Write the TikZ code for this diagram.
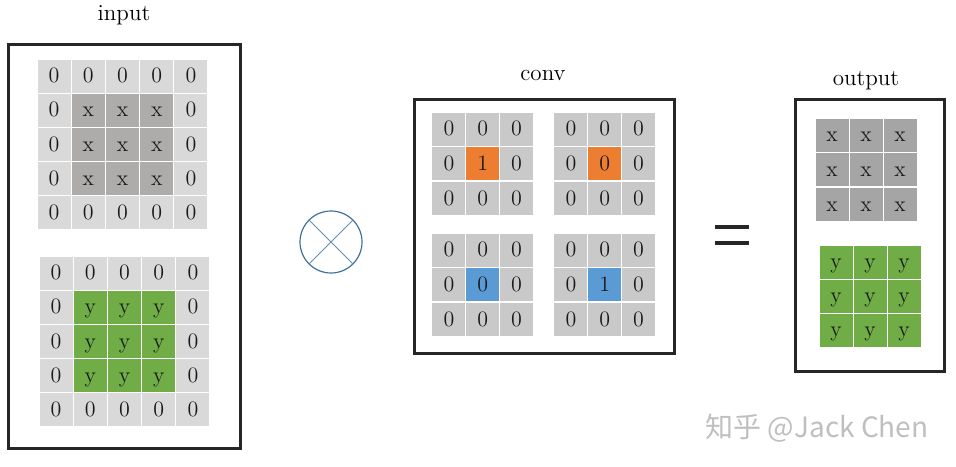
\documentclass[tikz,border=0pt]{standalone}
\usepackage{fontspec}
\newfontfamily\cjk{Noto Sans CJK SC}
\usepackage{tikz}
\usetikzlibrary{positioning}

\definecolor{padgray}{HTML}{D9D9D9}
\definecolor{xgray}{HTML}{AEABAB}
\definecolor{ygreen}{HTML}{70AD47}
\definecolor{kgray}{HTML}{C9C9C9}
\definecolor{korange}{HTML}{ED7D31}
\definecolor{kblue}{HTML}{5B9BD5}
\definecolor{outgray}{HTML}{A5A5A5}
\definecolor{framegray}{HTML}{262626}
\definecolor{ringblue}{HTML}{41719C}

\begin{document}
\begin{tikzpicture}[x=0.5pt, y=-0.5pt,
    cell/.style={fill=padgray, minimum size=16.5pt, inner sep=0pt, text=black!90,
        text height=7pt, text depth=0.5pt, font=\fontsize{11}{11}\selectfont},
    boxframe/.style={draw=framegray, line width=1.5pt, inner sep=0pt},
    lbl/.style={font=\fontsize{11.5}{13}\selectfont}]
    \useasboundingbox (0,0) rectangle (956,466);

    % Frames and titles
    \node[boxframe, minimum width=116pt, minimum height=202pt] (inbox) at (124,246) {};
    \node[lbl] (inlbl) at (124,15) {input};
    \node[boxframe, minimum width=130pt, minimum height=127pt] (convbox) at (544,226) {};
    \node[lbl] (convlbl) at (543,75) {conv};
    \node[boxframe, minimum width=74.5pt, minimum height=136pt] (outbox) at (869.5,235) {};
    \node[lbl] (outlbl) at (866,81) {output};

    % Input: x channel, zero padded
    \def\pitch{34.2}
    \foreach \r in {0,...,4}
      \foreach \c in {0,...,4} {
        \pgfmathtruncatemacro{\inner}{(\r>0)*(\r<4)*(\c>0)*(\c<4)}
        \ifnum\inner=1
          \node[cell, fill=xgray] (inx-\r-\c) at ({37+\pitch/2+\pitch*\c},{59+\pitch/2+\pitch*\r}) {x};
        \else
          \node[cell] (inx-\r-\c) at ({37+\pitch/2+\pitch*\c},{59+\pitch/2+\pitch*\r}) {0};
        \fi
      }

    % Input: y channel, zero padded
    \foreach \r in {0,...,4}
      \foreach \c in {0,...,4} {
        \pgfmathtruncatemacro{\inner}{(\r>0)*(\r<4)*(\c>0)*(\c<4)}
        \ifnum\inner=1
          \node[cell, fill=ygreen] (iny-\r-\c) at ({39+\pitch/2+\pitch*\c},{256+\pitch/2+\pitch*\r}) {y};
        \else
          \node[cell] (iny-\r-\c) at ({39+\pitch/2+\pitch*\c},{256+\pitch/2+\pitch*\r}) {0};
        \fi
      }

    % Convolution sign
    \node[circle, draw=ringblue, line width=0.6pt, minimum size=31pt, inner sep=0pt] (times) at (331,242) {};
    \draw[ringblue!80, line width=0.4pt] (times.north east) -- (times.south west);
    \draw[ringblue!80, line width=0.4pt] (times.north west) -- (times.south east);

    % Kernels
    \foreach \gx/\gy/\kcol/\val [count=\k] in {432/112/korange/1, 554/112/korange/0, 432/233/kblue/0, 554/233/kblue/1}
      \foreach \r in {0,1,2}
        \foreach \c in {0,1,2} {
          \pgfmathtruncatemacro{\iscentre}{(\r==1)*(\c==1)}
          \ifnum\iscentre=1
            \node[cell, fill=\kcol] (k\k-\r-\c) at ({\gx+16.9+33.8*\c},{\gy+17.3+34.6*\r}) {\val};
          \else
            \node[cell, fill=kgray] (k\k-\r-\c) at ({\gx+16.9+33.8*\c},{\gy+17.3+34.6*\r}) {0};
          \fi
        }

    % Equals sign
    \fill[framegray] (715,225) rectangle (749,229);
    \fill[framegray] (715,241) rectangle (749,245);

    % Output
    \foreach \r in {0,1,2}
      \foreach \c in {0,1,2} {
        \node[cell, fill=outgray] (outx-\r-\c) at ({815+17+34*\c},{118+17.3+34.6*\r}) {x};
        \node[cell, fill=ygreen] (outy-\r-\c) at ({819+17+34*\c},{245+17+34*\r}) {y};
      }

    % Watermark
    \node[text=black!25, font=\cjk\fontsize{14}{16}\selectfont] (mark) at (817,428) {知乎 @Jack Chen};
\end{tikzpicture}
\end{document}
